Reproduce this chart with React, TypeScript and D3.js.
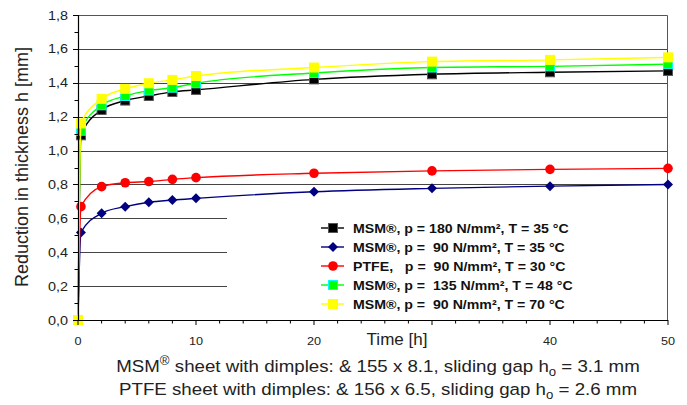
import React, { useEffect, useRef } from 'react';
import * as d3 from 'd3';

const times = [0, 0.25, 2, 4, 6, 8, 10, 20, 30, 40, 50];

const msm180 = [0, 1.09, 1.24, 1.295, 1.322, 1.346, 1.358, 1.42, 1.45, 1.462, 1.47];
const msm90 = [0, 0.517, 0.63, 0.669, 0.695, 0.708, 0.718, 0.757, 0.777, 0.79, 0.8];
const ptfe90 = [0, 0.669, 0.787, 0.81, 0.817, 0.83, 0.84, 0.866, 0.88, 0.889, 0.895];
const msm135 = [0, 1.117, 1.267, 1.322, 1.354, 1.371, 1.397, 1.458, 1.49, 1.497, 1.51];
const msm70 = [0, 1.16, 1.305, 1.364, 1.397, 1.417, 1.44, 1.49, 1.525, 1.535, 1.55];

const seriesNames = [
  'MSM®, p = 180 N/mm², T = 35 °C',
  'MSM®, p =  90 N/mm², T = 35 °C',
  'PTFE,   p =  90 N/mm², T = 30 °C',
  'MSM®, p =  135 N/mm², T = 48 °C',
  'MSM®, p =  90 N/mm², T = 70 °C',
];

const xTickLabels = [0, 10, 20, 40, 50];
const yTickValues = [0, 0.2, 0.4, 0.6, 0.8, 1.0, 1.2, 1.4, 1.6, 1.8];

const series = [
  { name: seriesNames[0], values: msm180, color: '#000000', fill: '#000000', stroke: '#555555', shape: 'square' },
  { name: seriesNames[1], values: msm90, color: '#000080', fill: '#000080', stroke: '#000080', shape: 'diamond' },
  { name: seriesNames[2], values: ptfe90, color: '#ff0000', fill: '#ff0000', stroke: '#ff0000', shape: 'circle' },
  { name: seriesNames[3], values: msm135, color: '#00ff00', fill: '#00ff00', stroke: '#00ffff', shape: 'square' },
  { name: seriesNames[4], values: msm70, color: '#ffff00', fill: '#ffff00', stroke: '#ffff00', shape: 'square' },
];

export default function App() {
  const ref = useRef<SVGSVGElement>(null);

  useEffect(() => {
    const width = 687;
    const height = 405;
    const margin = { top: 15, left: 78, bottom: 85, right: 19 };
    const iwidth = width - margin.left - margin.right;
    const iheight = height - margin.top - margin.bottom;
    const font = '"Liberation Sans", Arial, sans-serif';

    const svg = d3.select(ref.current);
    svg.selectAll('*').remove();
    svg.attr('width', width).attr('height', height);

    const x = d3.scaleLinear().domain([0, 50]).range([0, iwidth]);
    const y = d3.scaleLinear().domain([0, 1.8]).range([iheight, 0]);

    const g = svg.append('g').attr('transform', `translate(${margin.left},${margin.top})`);

    // gridlines
    g.selectAll('line.grid')
      .data(yTickValues.filter((v) => v > 0 && v < 1.8))
      .enter()
      .append('line')
      .attr('x1', 0)
      .attr('x2', iwidth)
      .attr('y1', (d) => Math.round(y(d)) + 0.5)
      .attr('y2', (d) => Math.round(y(d)) + 0.5)
      .attr('stroke', '#444')
      .attr('stroke-width', 1);

    // top & right frame
    g.append('path')
      .attr('d', `M0,0.5H${iwidth - 0.5}V${iheight}`)
      .attr('fill', 'none')
      .attr('stroke', '#555');

    // legend box hides the lower grid lines
    const lx = 149;
    const ly = 197;
    g.append('rect')
      .attr('x', lx)
      .attr('y', ly)
      .attr('width', iwidth - lx - 1)
      .attr('height', iheight - ly - 1)
      .attr('fill', 'white');

    // lines
    const line = d3
      .line<number>()
      .x((d, i) => x(times[i]))
      .y((d) => y(d))
      .curve(d3.curveMonotoneX);

    const drawMarker = (sel, s, px, py) => {
      if (s.shape === 'square') {
        sel.append('rect')
          .attr('x', px - 4.5)
          .attr('y', py - 4.5)
          .attr('width', 9)
          .attr('height', 9)
          .attr('fill', s.fill)
          .attr('stroke', s.stroke)
          .attr('stroke-width', 1);
      } else if (s.shape === 'circle') {
        sel.append('circle')
          .attr('cx', px)
          .attr('cy', py)
          .attr('r', 4.8)
          .attr('fill', s.fill);
      } else {
        sel.append('path')
          .attr('d', `M${px},${py - 5}L${px + 5},${py}L${px},${py + 5}L${px - 5},${py}Z`)
          .attr('fill', s.fill);
      }
    };

    series.forEach((s) => {
      g.append('path')
        .datum(s.values)
        .attr('d', line)
        .attr('fill', 'none')
        .attr('stroke', s.color)
        .attr('stroke-width', 1.4);
      const mg = g.append('g');
      s.values.forEach((v, i) => drawMarker(mg, s, x(times[i]), y(v)));
    });

    // axes
    const axisG = g.append('g');
    axisG.append('line')
      .attr('x1', 0).attr('x2', iwidth)
      .attr('y1', iheight + 0.5).attr('y2', iheight + 0.5)
      .attr('stroke', '#000').attr('stroke-width', 1.2);
    axisG.append('line')
      .attr('x1', 0.5).attr('x2', 0.5)
      .attr('y1', 0).attr('y2', iheight)
      .attr('stroke', '#000').attr('stroke-width', 1.2);

    d3.range(0, 51, 2).forEach((t) => {
      const major = t % 10 === 0;
      axisG.append('line')
        .attr('x1', x(t)).attr('x2', x(t))
        .attr('y1', iheight).attr('y2', iheight + (major ? 5 : 3.5))
        .attr('stroke', '#000');
    });
    d3.range(0, 19).forEach((k) => {
      const v = k / 10;
      const major = k % 2 === 0;
      axisG.append('line')
        .attr('x1', major ? -5 : -3.5).attr('x2', 0)
        .attr('y1', Math.round(y(v)) + 0.5).attr('y2', Math.round(y(v)) + 0.5)
        .attr('stroke', '#000');
    });

    const fmt = (v) => v.toFixed(1).replace('.', ',');
    yTickValues.forEach((v) => {
      g.append('text')
        .attr('transform', `translate(-10,${y(v) + 4.5}) scale(1.2,1)`)
        .attr('text-anchor', 'end')
        .attr('font-family', font)
        .attr('font-size', 12)
        .attr('fill', '#222')
        .text(fmt(v));
    });

    xTickLabels.forEach((t) => {
      g.append('text')
        .attr('transform', `translate(${x(t)},${iheight + 25}) scale(1.15,1)`)
        .attr('text-anchor', 'middle')
        .attr('font-family', font)
        .attr('font-size', 11)
        .attr('fill', '#222')
        .text(t);
    });

    // axis titles
    svg.append('text')
      .attr('transform', 'translate(28,167) rotate(-90)')
      .attr('text-anchor', 'middle')
      .attr('font-family', font)
      .attr('font-size', 18)
      .attr('fill', '#222')
      .text('Reduction in thickness h [mm]');

    svg.append('text')
      .attr('x', 397)
      .attr('y', 345)
      .attr('text-anchor', 'middle')
      .attr('font-family', font)
      .attr('font-size', 17)
      .attr('fill', '#222')
      .text('Time [h]');

    // footnote
    const notes = [
      { a: 'MSM', sup: '®', b: ' sheet with dimples: & 155 x 8.1, sliding gap h', c: ' = 3.1 mm', y: 372 },
      { a: 'PTFE sheet with dimples: & 156 x 6.5, sliding gap h', sup: '', b: '', c: ' = 2.6 mm', y: 395 },
    ];
    notes.forEach((n) => {
      const t = svg.append('text')
        .attr('transform', `translate(378,${n.y}) scale(1.1,1)`)
        .attr('text-anchor', 'middle')
        .attr('font-family', font)
        .attr('font-size', 17)
        .attr('fill', '#222');
      t.append('tspan').text(n.a);
      if (n.sup) {
        t.append('tspan').attr('font-size', 12).attr('dy', -7).text(n.sup);
        t.append('tspan').attr('dy', 7).text(n.b);
      }
      t.append('tspan').attr('font-size', 12).attr('dy', 4).text('o');
      t.append('tspan').attr('dy', -4).text(n.c);
    });

    // legend
    series.forEach((s, i) => {
      const ry = 213 + i * 19;
      const lg = g.append('g');
      lg.append('line')
        .attr('x1', 243).attr('x2', 266)
        .attr('y1', ry).attr('y2', ry)
        .attr('stroke', s.color)
        .attr('stroke-width', 1.4);
      drawMarker(lg, s, 255, ry);
      lg.append('text')
        .attr('transform', `translate(275,${ry + 4.5}) scale(1.18,1)`)
        .attr('font-family', font)
        .attr('font-size', 12)
        .attr('font-weight', 'bold')
        .attr('fill', '#111')
        .style('white-space', 'pre')
        .text(s.name);
    });
  });

  return (
    <div style={{ position: 'absolute', left: 0, top: 0, background: 'white' }}>
      <svg ref={ref}></svg>
    </div>
  );
}
